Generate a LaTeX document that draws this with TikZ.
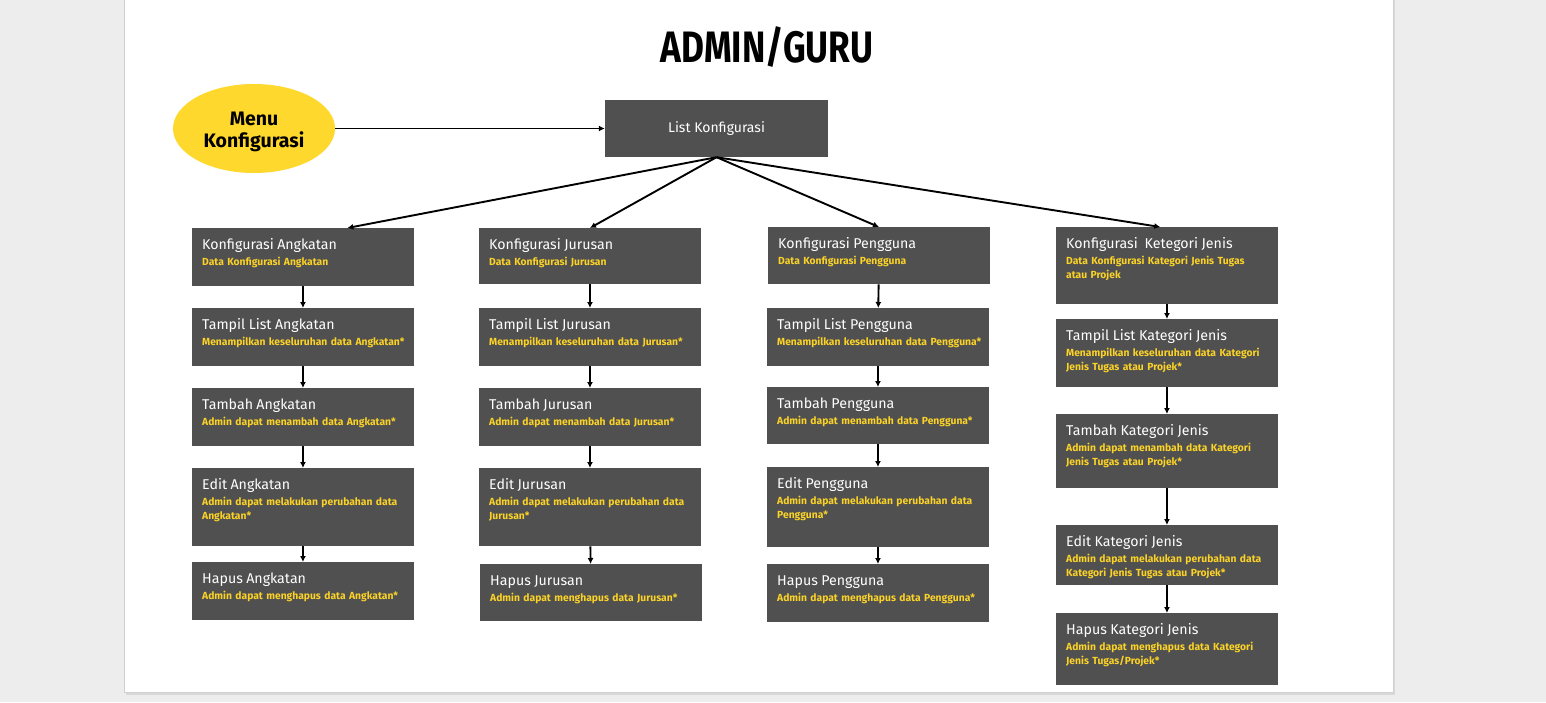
\documentclass[tikz,border=0pt]{standalone}
\usepackage{fontspec}
\setmainfont{Fira Sans}
\newfontfamily\headfont{Fira Sans}[FakeStretch=0.8]
\usepackage{tikz}
\usetikzlibrary{positioning,calc,shapes.geometric,arrows.meta}

\definecolor{pagebg}{RGB}{237,237,237}
\definecolor{pageline}{RGB}{208,208,208}
\definecolor{boxgray}{RGB}{80,80,80}
\definecolor{menuyellow}{RGB}{255,216,46}
\definecolor{subyellow}{RGB}{250,210,40}

\newcommand{\kttl}{\fontsize{14.2}{17}\selectfont\mdseries\color{white}}
\newcommand{\ksub}{\fontsize{10.3}{13.5}\selectfont\bfseries\color{subyellow}}

\tikzset{
  kbox/.style={fill=boxgray, inner xsep=10pt, inner ysep=0pt, text width=201.5pt,
    align=left, anchor=north west, text height=21pt, font=\ksub},
  flow/.style={-{Latex[length=6pt,width=6pt]}, line width=1.9pt, black},
}

\begin{document}
\begin{tikzpicture}[x=1pt,y=-1pt]
            \useasboundingbox (0,0) rectangle (1546,702);
            \fill[pagebg] (0,0) rectangle (1546,702);
            \fill[pageline!70!pagebg] (126,-10) rectangle (1395,694.5);
            \draw[fill=white,draw=pageline] (124.5,-10) rectangle (1393,692.5);

            \node[font=\headfont\bfseries\fontsize{44}{46}\selectfont] (title) at (767,47) {ADMIN/GURU};

            \node[ellipse, fill=menuyellow, minimum width=162pt, minimum height=89pt, inner sep=0pt,
                  align=center, font=\bfseries\fontsize{19.5}{22}\selectfont] (menu) at (254,128.5) {\rule{0pt}{19.5pt}Menu\\Konfigurasi};
            \node[fill=boxgray, text=white, minimum width=223pt, minimum height=57pt,
                  font=\fontsize{14}{17}\selectfont] (lk) at (716.5,128.5) {List Konfigurasi};

            % kolom angkatan
            \node[kbox, text depth=37pt] (a1) at (192,228) {{\kttl Konfigurasi Angkatan}\\[3pt]Data Konfigurasi Angkatan};
            \node[kbox, text depth=37pt] (a2) at (192,308) {{\kttl Tampil List Angkatan}\\[3pt]\mbox{Menampilkan keseluruhan data Angkatan*}};
            \node[kbox, text depth=37pt] (a3) at (192,388) {{\kttl Tambah Angkatan}\\[3pt]Admin dapat menambah data Angkatan*};
            \node[kbox, text depth=57pt] (a4) at (192,468) {{\kttl Edit Angkatan}\\[3pt]Admin dapat melakukan perubahan data\\Angkatan*};
            \node[kbox, text depth=37pt] (a5) at (192,562) {{\kttl Hapus Angkatan}\\[3pt]Admin dapat menghapus data Angkatan*};

            % kolom jurusan
            \node[kbox, text depth=35pt] (j1) at (479,228) {{\kttl Konfigurasi Jurusan}\\[3pt]Data Konfigurasi Jurusan};
            \node[kbox, text depth=37pt] (j2) at (479,308) {{\kttl Tampil List Jurusan}\\[3pt]\mbox{Menampilkan keseluruhan data Jurusan*}};
            \node[kbox, text depth=37pt] (j3) at (479,388) {{\kttl Tambah Jurusan}\\[3pt]Admin dapat menambah data Jurusan*};
            \node[kbox, text depth=57pt] (j4) at (479,468) {{\kttl Edit Jurusan}\\[3pt]Admin dapat melakukan perubahan data\\Jurusan*};
            \node[kbox, text depth=36pt] (j5) at (480,564) {{\kttl Hapus Jurusan}\\[3pt]Admin dapat menghapus data Jurusan*};

            % kolom pengguna
            \node[kbox, text depth=36pt] (p1) at (768,227) {{\kttl Konfigurasi Pengguna}\\[3pt]Data Konfigurasi Pengguna};
            \node[kbox, text depth=37pt] (p2) at (767,308) {{\kttl Tampil List Pengguna}\\[3pt]\mbox{Menampilkan keseluruhan data Pengguna*}};
            \node[kbox, text depth=36pt] (p3) at (767,387) {{\kttl Tambah Pengguna}\\[3pt]Admin dapat menambah data Pengguna*};
            \node[kbox, text depth=59pt] (p4) at (767,467) {{\kttl Edit Pengguna}\\[3pt]Admin dapat melakukan perubahan data\\Pengguna*};
            \node[kbox, text depth=37pt] (p5) at (767,564) {{\kttl Hapus Pengguna}\\[3pt]Admin dapat menghapus data Pengguna*};

            % kolom kategori jenis
            \node[kbox, text depth=56pt] (k1) at (1056,227) {{\kttl Konfigurasi\ \ Ketegori Jenis}\\[3pt]Data Konfigurasi Kategori Jenis Tugas\\atau Projek};
            \node[kbox, text depth=47pt] (k2) at (1056,319) {{\kttl Tampil List Kategori Jenis}\\[3pt]Menampilkan keseluruhan data Kategori\\Jenis Tugas atau Projek*};
            \node[kbox, text depth=53pt] (k3) at (1056,414) {{\kttl Tambah Kategori Jenis}\\[3pt]Admin dapat menambah data Kategori\\Jenis Tugas atau Projek*};
            \node[kbox, text depth=39pt] (k4) at (1056,525) {{\kttl Edit Kategori Jenis}\\[3pt]Admin dapat melakukan perubahan data\\Kategori Jenis Tugas atau Projek*};
            \node[kbox, text depth=51pt] (k5) at (1056,613) {{\kttl Hapus Kategori Jenis}\\[3pt]Admin dapat menghapus data Kategori\\Jenis Tugas/Projek*};

            \draw[flow] (menu) -- (lk);
            \draw[flow] (lk.south) -- ($(a1.north west)!0.7!(a1.north east)$);
            \draw[flow] (lk.south) -- (j1.north);
            \draw[flow] (lk.south) -- (p1.north);
            \draw[flow] (lk.south) -- ($(k1.north west)!0.47!(k1.north east)$);

            \foreach \c in {a,j,p,k} {
              \draw[flow] (\c1) -- (\c2);
              \draw[flow] (\c2) -- (\c3);
              \draw[flow] (\c3) -- (\c4);
              \draw[flow] (\c4) -- (\c5);
            }
\end{tikzpicture}
\end{document}
